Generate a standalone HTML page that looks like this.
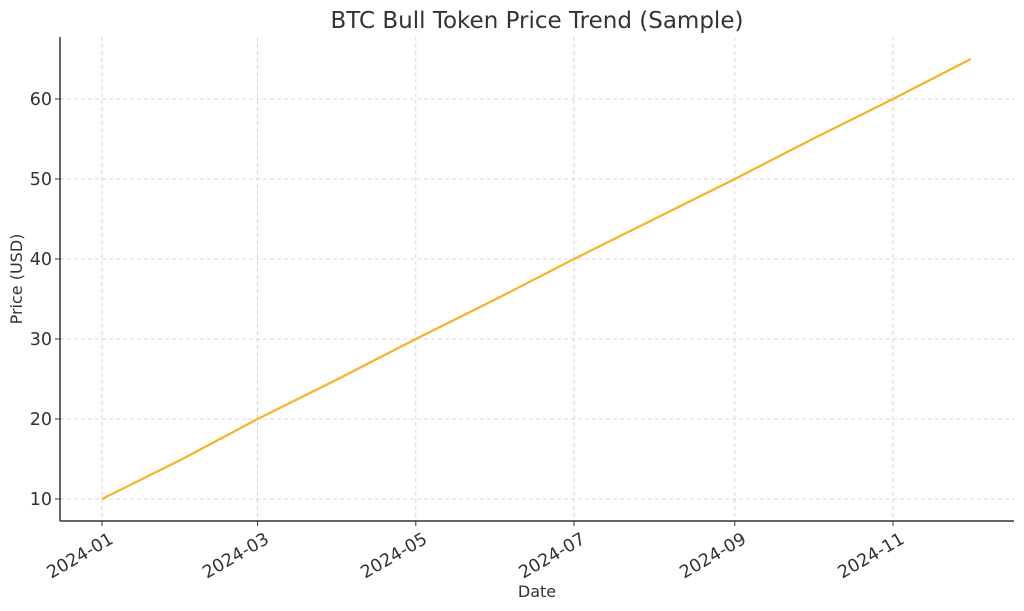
<!DOCTYPE html>
<html><head><meta charset="utf-8">
<style>
html,body{margin:0;padding:0;background:#fff;}
svg{display:block;font-family:"DejaVu Sans","Liberation Sans",sans-serif;}
</style></head>
<body>
<svg id="chart" width="1024" height="611" viewBox="0 0 1024 611">
<text x="537" y="28" text-anchor="middle" font-size="23" fill="#333">BTC Bull Token Price Trend (Sample)</text>
<g id="grid"></g>
<g id="ticks"></g>
<line x1="60" y1="37" x2="60" y2="521" stroke="#333" stroke-width="1.5"/>
<line x1="60" y1="521" x2="1014" y2="521" stroke="#333" stroke-width="1.5"/>
<g id="series"></g>
<text x="537" y="597" text-anchor="middle" font-size="16" fill="#333">Date</text>
<text transform="translate(22,279) rotate(-90)" text-anchor="middle" font-size="16" fill="#333">Price (USD)</text>
</svg>
<script>
const dates = ["2024-01-01","2024-02-01","2024-03-01","2024-04-01","2024-05-01","2024-06-01","2024-07-01","2024-08-01","2024-09-01","2024-10-01","2024-11-01","2024-12-01"];
const prices = [10,15,20,25,30,35,40,45,50,55,60,65];
const xTickLabels = ["2024-01","2024-03","2024-05","2024-07","2024-09","2024-11"];
const yTickValues = [10,20,30,40,50,60];

const NS="http://www.w3.org/2000/svg";
const t0=Date.UTC(2024,0,1);
function dayOf(s){const p=s.split("-");return (Date.UTC(+p[0],+p[1]-1,+(p[2]||1))-t0)/86400000;}
function xScale(s){return 102+dayOf(s)*2.5934;}
function yScale(v){return 579-v*8;}
function mk(tag,attrs,parent){const e=document.createElementNS(NS,tag);for(const k in attrs)e.setAttribute(k,attrs[k]);parent.appendChild(e);return e;}
const grid=document.getElementById("grid"),ticks=document.getElementById("ticks"),series=document.getElementById("series");
yTickValues.forEach(v=>{
  const y=yScale(v);
  const g=mk("line",{x1:60,x2:1014,y1:y,y2:y,stroke:"#ccc","stroke-width":0.8,"stroke-dasharray":"4,3"},grid);
  
  
  const tk=mk("line",{x1:55,x2:60,y1:y,y2:y,stroke:"#333","stroke-width":1},ticks);
  
  
  const t=mk("text",{x:52,y:y+6,"text-anchor":"end","font-size":17.5,fill:"#333"},ticks);
  t.textContent=v;
  
  
});
xTickLabels.forEach(s=>{
  const x=xScale(s);
  const g=mk("line",{x1:x,x2:x,y1:37,y2:521,stroke:"#ccc","stroke-width":0.8,"stroke-dasharray":"4,3"},grid);
  
  
  const tk=mk("line",{x1:x,x2:x,y1:521,y2:526,stroke:"#333","stroke-width":1},ticks);
  
  
  const t=mk("text",{transform:`translate(${x+6},${531}) rotate(-30)`,"text-anchor":"end","font-size":17.5,fill:"#333",dy:"0.75em"},ticks);
  t.textContent=s;
  
  
});
const pts=dates.map((d,i)=>xScale(d).toFixed(1)+","+yScale(prices[i]).toFixed(1)).join(" ");
const line=mk("polyline",{points:pts,fill:"none",stroke:"#f5b325","stroke-width":2.2,"stroke-linejoin":"round"},series);


</script>
</body></html>
